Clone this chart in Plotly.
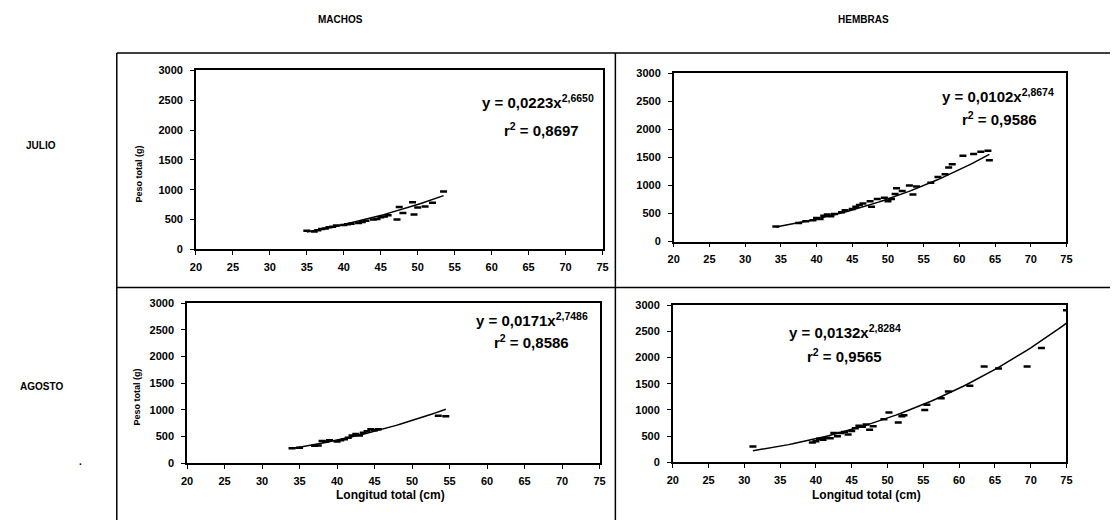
import numpy as np
import plotly.graph_objects as go

W, H = 1116, 526

# ---- data: total length (cm) vs total weight (g) ----
julio_machos_x = [35, 36, 36.5, 37, 37.5, 38, 38.5, 39, 40, 40.5, 41, 42, 42.5, 43, 44, 44.5,
                  45, 45.5, 46, 47.2, 47.5, 48, 49.3, 49.5, 50, 51, 52, 53.5]
julio_machos_y = [310, 300, 320, 340, 350, 370, 380, 400, 410, 420, 430, 440, 460, 480, 500, 510,
                  540, 550, 570, 500, 710, 610, 790, 585, 700, 720, 780, 970]

julio_hembras_x = [34.3, 37.5, 38.5, 39.5, 40, 40.5, 41, 41.5, 42, 42.5, 43.5, 44, 45, 45.5, 46,
                   46.5, 47.5, 47.7, 48.5, 49.5, 50, 50.5, 51, 51.2, 52, 53, 53.5, 54, 56, 57,
                   58, 58.5, 59, 60.5, 62, 63, 64, 64.2]
julio_hembras_y = [270, 330, 360, 380, 420, 400, 460, 480, 450, 490, 520, 560, 580, 620, 650,
                   680, 720, 620, 760, 780, 720, 760, 850, 950, 900, 1000, 840, 980, 1050, 1150,
                   1200, 1320, 1380, 1530, 1560, 1600, 1620, 1450]

agosto_machos_x = [34, 35, 37, 37.5, 38, 38.5, 39, 40, 40.5, 41, 41.5, 42, 42.5, 43, 43.5, 44,
                   44.5, 45, 45.5, 53.5, 54.5]
agosto_machos_y = [280, 290, 330, 335, 420, 410, 430, 410, 430, 450, 480, 520, 550, 520, 570, 600,
                   640, 620, 640, 890, 880]

agosto_hembras_x = [31.2, 39.5, 40, 40.5, 41, 41.5, 42, 42.5, 43, 43.5, 44, 44.5, 45, 45.5, 46,
                    46.5, 47, 47.5, 48, 49.5, 50.2, 51.5, 52, 52.3, 55.2, 55.5, 57.5, 58.5, 61.5,
                    63.5, 65.5, 69.5, 71.5, 75]
agosto_hembras_y = [300, 380, 400, 450, 430, 470, 460, 560, 500, 560, 580, 530, 600, 650, 700,
                    680, 720, 620, 690, 820, 950, 760, 880, 900, 1000, 1100, 1220, 1350, 1460,
                    1830, 1790, 1830, 2180, 2900]

# power-law fits y = a * x^b with reported coefficients
fit_a = [0.0223, 0.0102, 0.0171, 0.0132]
fit_b = [2.6650, 2.8674, 2.7486, 2.8284]
fit_eq = ["y = 0,0223x<sup>2,6650</sup>", "y = 0,0102x<sup>2,8674</sup>",
          "y = 0,0171x<sup>2,7486</sup>", "y = 0,0132x<sup>2,8284</sup>"]
fit_r2 = ["r<sup>2</sup> = 0,8697", "r<sup>2</sup> = 0,9586",
          "r<sup>2</sup> = 0,8586", "r<sup>2</sup> = 0,9565"]

col_titles = ["MACHOS", "HEMBRAS"]
row_titles = ["JULIO", "AGOSTO"]
x_ticks = [20, 25, 30, 35, 40, 45, 50, 55, 60, 65, 70, 75]
y_ticks = [0, 500, 1000, 1500, 2000, 2500, 3000]

series = [(julio_machos_x, julio_machos_y), (julio_hembras_x, julio_hembras_y),
          (agosto_machos_x, agosto_machos_y), (agosto_hembras_x, agosto_hembras_y)]

# plot-area boxes in pixels: (left, right, top, bottom)
boxes = [(192, 603, 66, 249), (675, 1072, 69, 241),
         (183, 600, 304, 468), (674, 1072, 306, 467)]


def px_x(v):
    return v / W


def px_y(v):
    return 1 - v / H


fig = go.Figure()
FONT = "Arial"


def label(x, y, text, size, xanchor="center", angle=0):
    fig.add_annotation(x=px_x(x), y=px_y(y), xref="paper", yref="paper", text=text,
                       xanchor=xanchor, yanchor="middle", textangle=angle, showarrow=False,
                       font=dict(family=FONT, size=size, color="black"))


for i, ((xs, ys), box) in enumerate(zip(series, boxes)):
    n = "" if i == 0 else str(i + 1)
    xref, yref = "x" + n, "y" + n
    fig.add_trace(go.Scatter(
        x=xs, y=ys, mode="markers", xaxis=xref, yaxis=yref,
        marker=dict(symbol="line-ew-open", size=5, color="black",
                    line=dict(color="black", width=2.5)),
        showlegend=False, hoverinfo="skip"))
    xf = np.linspace(min(xs), max(xs), 80)
    fig.add_trace(go.Scatter(
        x=xf, y=fit_a[i] * xf ** fit_b[i], mode="lines", xaxis=xref, yaxis=yref,
        line=dict(color="black", width=1.5), showlegend=False, hoverinfo="skip"))
    l, r, t, b = box
    axis_common = dict(showgrid=False, zeroline=False, showline=True, linecolor="black",
                       linewidth=1.5, mirror=True, ticks="outside", ticklen=4,
                       tickcolor="black", tickwidth=1.2,
                       tickfont=dict(family=FONT, size=11, color="black", weight="bold"))
    fig.layout["xaxis" + n] = dict(axis_common, domain=[px_x(l), px_x(r)], anchor=yref,
                                   range=[20, 75], tickvals=x_ticks, ticklabelstandoff=3)
    fig.layout["yaxis" + n] = dict(axis_common, domain=[px_y(b), px_y(t)], anchor=xref,
                                   range=[0, 3000], tickvals=y_ticks, ticklabelstandoff=5)

# equation annotations (pixel positions of text centre)
eq_pos = [(538, 98, 541, 126), (1003, 92, 1004, 115), (532, 321, 531, 343), (848, 333, 848, 358)]
for i, (ex, ey, rx, ry) in enumerate(eq_pos):
    label(ex, ey, "<b>%s</b>" % fit_eq[i], 15)
    label(rx, ry, "<b>%s</b>" % fit_r2[i], 15)

# axis titles
for tx, cy in [(135, 172), (132, 400)]:
    label(tx, cy, "<b>Peso total (g)</b>", 9, angle=-90)
for cx in [389, 870]:
    label(cx, 500, "<b>Longitud total (cm)</b>", 12)

# column and row headings
for txt, cx in zip(col_titles, [338, 867]):
    label(cx, 14, "<b>%s</b>" % txt, 10)
for txt, (lx, cy) in zip(row_titles, [(18, 143), (12, 389)]):
    label(lx, cy, "<b>%s</b>" % txt, 10, xanchor="left")
label(75, 466, "<b>.</b>", 10)

# cell borders
lines = [(112, 48, 1116, 48), (112, 48, 112, 526), (616, 48, 616, 526), (112, 288, 1116, 288)]
for x0, y0, x1, y1 in lines:
    fig.add_shape(type="line", xref="paper", yref="paper",
                  x0=px_x(x0), y0=px_y(y0), x1=px_x(x1), y1=px_y(y1),
                  line=dict(color="black", width=1.5))

fig.update_layout(width=W, height=H, margin=dict(l=0, r=0, t=0, b=0),
                  paper_bgcolor="white", plot_bgcolor="white")
fig.write_html("out.html")
